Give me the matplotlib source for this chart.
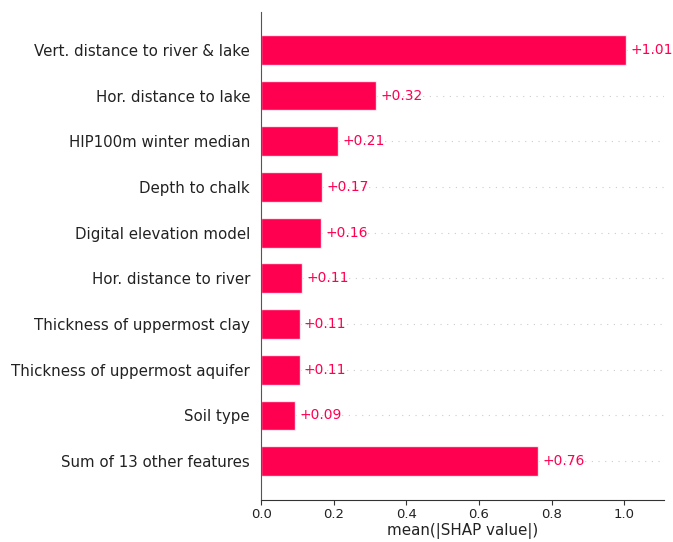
import matplotlib
matplotlib.use("Agg")
import numpy as np
import matplotlib.pyplot as plt

# feature importances (mean absolute SHAP), top to bottom
features = [
    "Vert. distance to river & lake",
    "Hor. distance to lake",
    "HIP100m winter median",
    "Depth to chalk",
    "Digital elevation model",
    "Hor. distance to river",
    "Thickness of uppermost clay",
    "Thickness of uppermost aquifer",
    "Soil type",
    "Sum of 13 other features",
]
mean_abs_shap = [1.006, 0.317, 0.212, 0.168, 0.165, 0.113, 0.106, 0.106, 0.094, 0.763]
value_labels = ["+1.01", "+0.32", "+0.21", "+0.17", "+0.16", "+0.11", "+0.11", "+0.11", "+0.09", "+0.76"]
xticks = [0.0, 0.2, 0.4, 0.6, 0.8, 1.0]

red = "#ff0051"
xmax = 1.11

fig = plt.figure(figsize=(6.73, 5.42), dpi=100)
ax = fig.add_axes([0.388, 0.0775, 0.599, 0.9005])

y_pos = np.arange(len(features))

# dotted guide lines behind the bars
for y, v in zip(y_pos, mean_abs_shap):
    ax.hlines(y, v, xmax, color="#cccccc", lw=0.8, linestyles=(0, (1, 5)), zorder=-1)

ax.barh(y_pos, mean_abs_shap, 0.65, align="center", color=red,
        edgecolor=(1, 1, 1, 0.8), linewidth=1)

for y, v, lab in zip(y_pos, mean_abs_shap, value_labels):
    ax.text(v + xmax / 100, y, lab, ha="left", va="center", color=red, fontsize=10)

ax.set_yticks(y_pos)
ax.set_yticklabels(features, fontsize=10.8, color="#222222")
ax.tick_params(axis="y", length=0, pad=8)
ax.set_ylim(len(features) - 1 + 0.85, -0.83)

ax.set_xlim(0, xmax)
ax.set_xticks(xticks)
ax.tick_params(axis="x", labelsize=9.5, color="#333333", labelcolor="#222222", pad=2.5)
ax.set_xlabel("mean(|SHAP value|)", fontsize=10.9, color="#222222", labelpad=1)

ax.spines["top"].set_visible(False)
ax.spines["right"].set_visible(False)
ax.spines["left"].set_color("#555555")
ax.spines["bottom"].set_color("#333333")

fig.savefig("out.png", dpi=100)
